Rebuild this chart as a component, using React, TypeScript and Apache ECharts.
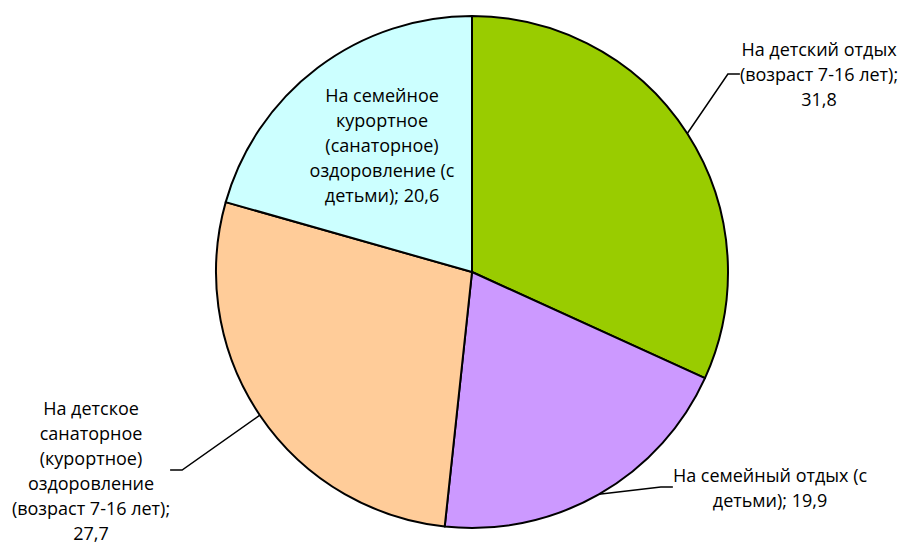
import React, { useEffect, useRef } from "react";
import * as echarts from "echarts";

const categories = [
  "На детский отдых (возраст 7-16 лет)",
  "На семейный отдых (с детьми)",
  "На детское санаторное (курортное) оздоровление (возраст 7-16 лет)",
  "На семейное курортное (санаторное) оздоровление (с детьми)",
];
const labelLines = [
  ["На детский отдых", "(возраст 7-16 лет);", "31,8"],
  ["На семейный отдых (с", "детьми); 19,9"],
  ["На детское", "санаторное", "(курортное)", "оздоровление", "(возраст 7-16 лет);", "27,7"],
  ["На семейное", "курортное", "(санаторное)", "оздоровление (с", "детьми); 20,6"],
];
const values = [31.8, 19.9, 27.7, 20.6];
const colors = ["#99CC00", "#CC99FF", "#FFCC99", "#CCFFFF"];

const labelAnchors = [
  { x: 819, y: 74 },
  { x: 770, y: 487 },
  { x: 91, y: 470 },
  { x: 382, y: 145 },
];

export default function App() {
  const ref = useRef<HTMLDivElement>(null);
  useEffect(() => {
    document.body.style.margin = "0";
    const chart = echarts.init(ref.current!, null, { renderer: "svg" });
    chart.setOption({
      animation: false,
      backgroundColor: "#ffffff",
      series: [
        {
          type: "pie",
          center: [472, 272],
          radius: 256,
          startAngle: 90,
          clockwise: true,
          itemStyle: { borderColor: "#000", borderWidth: 2 },
          label: {
            show: true,
            position: "outside",
            color: "#000",
            fontFamily: "'Open Sans', sans-serif",
            fontSize: 18,
            lineHeight: 25,
            align: "center",
            formatter: (p: any) => labelLines[p.dataIndex].join("\n"),
          },
          labelLine: {
            show: true,
            length: 20,
            length2: 12,
            lineStyle: { color: "#000", width: 1.5 },
          },
          labelLayout: (p: any) => {
            const a = labelAnchors[p.dataIndex];
            return { x: a.x, y: a.y, align: "center", verticalAlign: "middle" };
          },
          data: categories.map((name, i) => ({
            name,
            value: values[i],
            itemStyle: { color: colors[i] },
            ...(i === 3
              ? { label: { position: "inside" }, labelLine: { show: false } }
              : {}),
          })),
        },
      ],
    });
    return () => chart.dispose();
  }, []);
  return <div ref={ref} style={{ width: 902, height: 544 }} />;
}
